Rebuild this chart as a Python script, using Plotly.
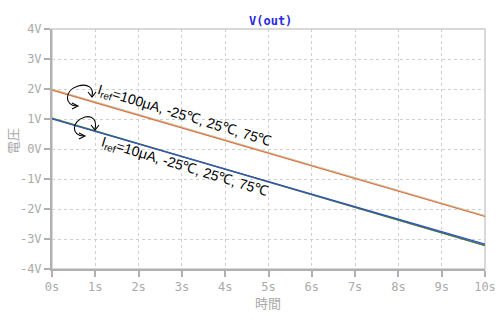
import plotly.graph_objects as go

# time axis (s)
t = [0, 10]
# Iref = 100uA traces (V)
v100_m25 = [2.00, -2.22]
v100_25 = [1.96, -2.25]
v100_75 = [1.98, -2.24]
# Iref = 10uA traces (V)
v10_m25 = [1.03, -3.21]
v10_25 = [1.00, -3.17]
v10_75 = [1.01, -3.22]

x_ticks = [0, 1, 2, 3, 4, 5, 6, 7, 8, 9, 10]
x_labels = [f"{v}s" for v in x_ticks]
y_ticks = [-4, -3, -2, -1, 0, 1, 2, 3, 4]
y_labels = [f"{v}V" for v in y_ticks]

W, H = 502, 322
X0, X1, Y0, Y1 = 52, 485, 29, 269
def px(x):
    return (x - X0) / (X1 - X0) * 10
def py(y):
    return 4 - (y - Y0) / (Y1 - Y0) * 8
def ppx(x):
    return (x - X0) / (X1 - X0)
def ppy(y):
    return (Y1 - y) / (Y1 - Y0)

fig = go.Figure()
traces = [
    (v100_75, "#d8b8b0"),
    (v100_m25, "#c9c9a8"),
    (v100_25, "#e2703f"),
    (v10_75, "#7a7a7a"),
    (v10_m25, "#3a7a3a"),
    (v10_25, "#2f4fd0"),
]
for vals, col in traces:
    fig.add_trace(go.Scatter(x=t, y=vals, mode="lines",
                             line=dict(color=col, width=1.2),
                             showlegend=False, hoverinfo="skip"))

def path(points):
    s = "M {} {}".format(px(points[0][0]), py(points[0][1]))
    for i in range(1, len(points), 3):
        a, b, c = points[i:i+3]
        s += " C {} {} {} {} {} {}".format(px(a[0]), py(a[1]), px(b[0]), py(b[1]), px(c[0]), py(c[1]))
    return s

def seg(pts):
    return "M " + " L ".join(f"{px(x)} {py(y)}" for x, y in pts)

blk = dict(color="black", width=1.1)
shapes = [
    # upper curved arrow
    dict(type="path", path=path([(77, 106), (65, 106), (63, 91), (78, 86),
                                 (88, 83), (94, 88), (92, 96)]), line=blk, xref="x", yref="y"),
    dict(type="path", path=seg([(88, 92), (92, 97), (96, 92)]), line=blk, xref="x", yref="y"),
    dict(type="path", path=seg([(72, 103), (78, 106), (72, 109)]), line=blk, xref="x", yref="y"),
    # lower curved arrow
    dict(type="path", path=path([(84, 136), (71, 136), (71, 121), (85, 117),
                                 (93, 115), (97, 121), (95, 129)]), line=blk, xref="x", yref="y"),
    dict(type="path", path=seg([(91, 125), (95, 130), (99, 125)]), line=blk, xref="x", yref="y"),
    dict(type="path", path=seg([(79, 133), (85, 136), (79, 139)]), line=blk, xref="x", yref="y"),
    # light frame
    dict(type="rect", xref="paper", yref="paper", x0=0, x1=1, y0=0, y1=1,
         line=dict(color="#cccccc", width=1.5), layer="below"),
]

lab_font = dict(family="Liberation Sans, Arial", size=14, color="black")
annotations = [
    dict(x=px(184), y=py(116), xref="x", yref="y", showarrow=False, textangle=17,
         text="I<sub>ref</sub>=100μA, -25℃, 25℃, 75℃", font=lab_font),
    dict(x=px(184), y=py(167), xref="x", yref="y", showarrow=False, textangle=17,
         text="I<sub>ref</sub>=10μA, -25℃, 25℃, 75℃", font=lab_font),
    dict(x=ppx(268), y=ppy(302), xref="paper", yref="paper", showarrow=False,
         xanchor="center", yanchor="middle",
         text="時間", font=dict(family="Noto Sans CJK JP", size=13, color="#aaaaaa")),
    dict(x=ppx(12), y=ppy(141), xref="paper", yref="paper", showarrow=False, textangle=-90,
         xanchor="center", yanchor="middle",
         text="電圧", font=dict(family="Noto Sans CJK JP", size=13, color="#aaaaaa")),
    dict(x=ppx(270), y=ppy(21), xref="paper", yref="paper", showarrow=False,
         xanchor="center", yanchor="middle",
         text="<b>V(out)</b>", font=dict(family="DejaVu Sans Mono", size=12, color="#2a2ae0")),
]

axis_common = dict(
    showgrid=True, gridcolor="#cfcfcf", griddash="3px,3px", gridwidth=1,
    showline=True, linecolor="#b0b0b0", linewidth=2,
    ticks="outside", ticklen=6, tickcolor="#b0b0b0", tickwidth=2,
    zeroline=False, automargin=False,
    tickfont=dict(family="DejaVu Sans Mono", size=12, color="#aaaaaa"),
)

fig.update_layout(
    width=W, height=H,
    margin=dict(l=X0, r=W - X1, t=Y0, b=H - Y1, autoexpand=False),
    paper_bgcolor="white", plot_bgcolor="white",
    shapes=shapes, annotations=annotations,
    xaxis=dict(range=[0, 10], tickvals=x_ticks, ticktext=x_labels, **axis_common),
    yaxis=dict(range=[-4, 4], tickvals=y_ticks, ticktext=y_labels, **axis_common),
)

fig.write_html("out.html", config={"displayModeBar": False},
               post_script="document.body.style.margin='0';document.body.style.overflow='hidden';")
